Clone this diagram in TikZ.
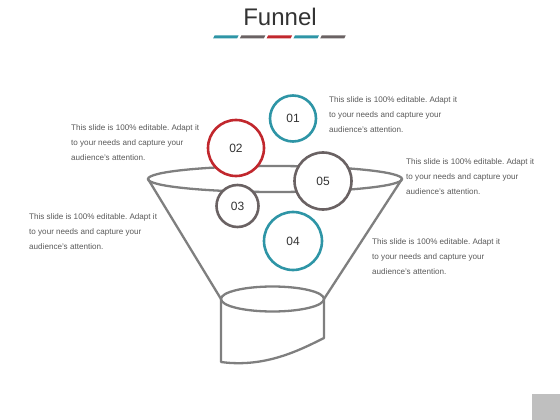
\documentclass[tikz,border=0pt]{standalone}
\usepackage{fontspec}
\setmainfont{Liberation Sans}
\frenchspacing
\definecolor{teal1}{HTML}{2E95A6}
\definecolor{red1}{HTML}{C1272D}
\definecolor{dgray}{HTML}{6A6263}
\definecolor{fgray}{HTML}{7F7F7F}
\definecolor{tgray}{HTML}{595959}
\tikzset{
  fline/.style={draw=fgray, line width=2.3pt},
  numcirc/.style={circle, fill=white, line width=2.6pt, inner sep=0pt, font=\fontsize{12}{14}\selectfont, text=black!80},
  desc/.style={anchor=north west, align=left, inner sep=0pt, text=tgray, font=\fontsize{8.1}{15}\selectfont},
  bar/.style={line width=2.6pt}
}
\begin{document}
\begin{tikzpicture}[x=1pt,y=-1pt]
\useasboundingbox (0,0) rectangle (560,420);
% title
\node[text=black!80] (title) at (280,17) {\fontsize{24}{26}\selectfont Funnel};
\foreach \i/\c in {0/teal1,1/dgray,2/red1,3/teal1,4/dgray}{
  \fill[\c] ({213+\i*26.8+1.5},35.5) -- ({213+\i*26.8+25.5},35.5) -- ({213+\i*26.8+24},38.5) -- ({213+\i*26.8},38.5) -- cycle;
}
% funnel
\coordinate (tl) at (148,179);
\coordinate (tr) at (402,179);
\coordinate (bl) at (221,299);
\coordinate (br) at (324,299);
\draw[fline] (275,179) ellipse [x radius=127, y radius=13];
\draw[fline] (tl) -- (bl);
\draw[fline] (tr) -- (br);
\draw[fline] (272.5,299) ellipse [x radius=51.5, y radius=12.5];
\coordinate (cbl) at (221,362);
\coordinate (cbr) at (324,338);
\draw[fline, line join=round] (bl) -- (cbl) .. controls (265,368) and (300,350) .. (cbr) -- (br);
% circles
\node[numcirc, draw=teal1, minimum size=46pt] (c1) at (293,118.5) {01};
\node[numcirc, draw=red1, minimum size=56pt] (c2) at (236,148) {02};
\node[numcirc, draw=dgray, minimum size=42pt] (c3) at (237.5,206) {03};
\node[numcirc, draw=dgray, minimum size=57pt] (c5) at (323,181) {05};
\node[numcirc, draw=teal1, minimum size=58pt] (c4) at (293,241) {04};
% texts
\node[desc] (t1) at (329,96.5) {This slide is 100\% editable. Adapt it\\to your needs and capture your\\audience's attention.};
\node[desc] (t2) at (71,124.5) {This slide is 100\% editable. Adapt it\\to your needs and capture your\\audience's attention.};
\node[desc] (t3) at (406,158.5) {This slide is 100\% editable. Adapt it\\to your needs and capture your\\audience's attention.};
\node[desc] (t4) at (29,213.5) {This slide is 100\% editable. Adapt it\\to your needs and capture your\\audience's attention.};
\node[desc] (t5) at (372,238.5) {This slide is 100\% editable. Adapt it\\to your needs and capture your\\audience's attention.};
% corner square
\fill[black!25] (532,394) rectangle (560,420);
\end{tikzpicture}
\end{document}
